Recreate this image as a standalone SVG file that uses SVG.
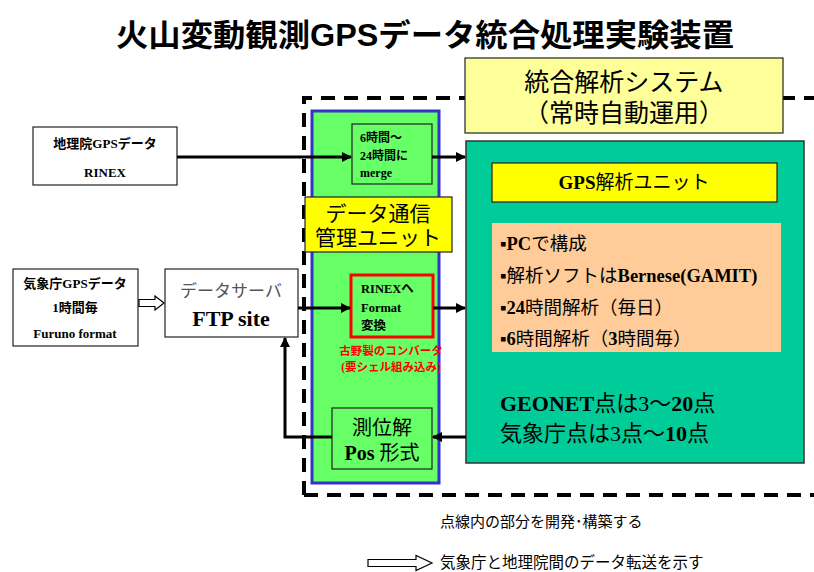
<svg xmlns="http://www.w3.org/2000/svg" width="814" height="572" viewBox="0 0 814 572">
<defs>
<style>
.jp{font-family:"Liberation Sans","Noto Sans CJK JP",sans-serif;}
.sf{font-family:"Liberation Serif","Noto Sans CJK JP",serif;}
.box{stroke:#222;stroke-width:1.2;}
.ln{stroke:#000;stroke-width:3;fill:none;}
</style>
<marker id="ah" markerWidth="10" markerHeight="10" refX="9" refY="5" orient="auto" markerUnits="userSpaceOnUse">
<path d="M0,0 L10,5 L0,10 z" fill="#000"/>
</marker>
</defs>
<rect width="814" height="572" fill="#fff"/>
<text class="jp" x="425" y="46" font-size="31" font-weight="bold" text-anchor="middle" textLength="618" lengthAdjust="spacingAndGlyphs">火山変動観測GPSデータ統合処理実験装置</text>

<path d="M304,495 L304,98 L820,98 M304,495 L820,495" stroke="#000" stroke-width="4" fill="none" stroke-dasharray="14,9"/>

<g id="system-label">
<rect x="465" y="58" width="318" height="75" fill="#FFFF99" class="box"/>
<text class="jp" x="624" y="91" font-size="25" text-anchor="middle">統合解析システム</text>
<text class="jp" x="624" y="122" font-size="25" text-anchor="middle">（常時自動運用）</text>
</g>

<g id="comm-unit">
<rect x="312" y="111" width="127" height="372" fill="#66FF66" stroke="#3333CC" stroke-width="3"/>
</g>

<g id="merge">
<rect x="352" y="124" width="80" height="60" fill="#66FF66" class="box"/>
<text class="sf" font-size="12" font-weight="bold"><tspan x="360" y="142">6時間～</tspan><tspan x="360" y="160">24時間に</tspan><tspan x="360" y="177">merge</tspan></text>
</g>

<g id="comm-label">
<rect x="305" y="197" width="147" height="55" fill="#FFFF00" class="box"/>
<text class="jp" x="378" y="221" font-size="21" text-anchor="middle">データ通信</text>
<text class="jp" x="378" y="245" font-size="21" text-anchor="middle">管理ユニット</text>
</g>

<g id="converter">
<rect x="351" y="275" width="82" height="62" fill="#66FF66" stroke="#FF0000" stroke-width="3"/>
<text class="sf" font-size="12.5" font-weight="bold"><tspan x="361" y="293">RINEXへ</tspan><tspan x="361" y="312">Format</tspan><tspan x="361" y="330">変換</tspan></text>
<text class="sf" x="391" y="355" font-size="11.5" font-weight="bold" fill="#FF0000" text-anchor="middle">古野製のコンバータ</text>
<text class="sf" x="391" y="371" font-size="11.5" font-weight="bold" fill="#FF0000" text-anchor="middle">(要シェル組み込み)</text>
</g>

<g id="pos">
<rect x="332" y="408" width="100" height="61" fill="#66FF66" class="box"/>
<text class="jp" x="382" y="435" font-size="20" text-anchor="middle">測位解</text>
<text class="sf" x="382" y="460" font-size="20" text-anchor="middle"><tspan font-weight="bold">Pos</tspan> 形式</text>
</g>

<g id="gsi">
<rect x="33" y="127" width="144" height="58" fill="#fff" class="box"/>
<text class="sf" x="105" y="148" font-size="13" font-weight="bold" text-anchor="middle">地理院GPSデータ</text>
<text class="sf" x="105" y="177" font-size="13" font-weight="bold" text-anchor="middle">RINEX</text>
</g>

<g id="jma">
<rect x="13" y="269" width="125" height="77" fill="#fff" class="box"/>
<text class="sf" x="75" y="288" font-size="13" font-weight="bold" text-anchor="middle">気象庁GPSデータ</text>
<text class="sf" x="75" y="312" font-size="13" font-weight="bold" text-anchor="middle">1時間毎</text>
<text class="sf" x="75" y="338" font-size="13" font-weight="bold" text-anchor="middle">Furuno format</text>
</g>

<g id="ftp">
<rect x="165" y="269" width="133" height="68" fill="#fff" class="box"/>
<text class="jp" x="231" y="297" font-size="17" fill="#555" text-anchor="middle">データサーバ</text>
<text class="sf" x="231" y="326" font-size="22" font-weight="bold" text-anchor="middle">FTP site</text>
</g>

<g id="analysis">
<rect x="466" y="141" width="338" height="322" fill="#00CC99" stroke="#333" stroke-width="1.5"/>
<rect x="492" y="163" width="285" height="39" fill="#FFFF00" class="box"/>
<text class="sf" x="634" y="189" font-size="19" text-anchor="middle"><tspan font-weight="bold">GPS</tspan>解析ユニット</text>
<rect x="492" y="223" width="289" height="129" fill="#FFCC99"/>
<text class="sf" font-size="18.5"><tspan x="500" y="250" font-weight="bold">▪PC</tspan><tspan>で構成</tspan></text>
<text class="sf" font-size="18.5"><tspan x="500" y="282">▪解析ソフトは</tspan><tspan font-weight="bold">Bernese(GAMIT)</tspan></text>
<text class="sf" font-size="18.5"><tspan x="500" y="314">▪</tspan><tspan font-weight="bold">24</tspan><tspan>時間解析（毎日）</tspan></text>
<text class="sf" font-size="18.5"><tspan x="500" y="345">▪</tspan><tspan font-weight="bold">6</tspan><tspan>時間解析（</tspan><tspan font-weight="bold">3</tspan><tspan>時間毎）</tspan></text>
<text class="sf" font-size="22"><tspan x="500" y="411" font-weight="bold">GEONET</tspan><tspan>点は3～</tspan><tspan font-weight="bold">20</tspan><tspan>点</tspan></text>
<text class="sf" font-size="22"><tspan x="500" y="441">気象庁点は3点～</tspan><tspan font-weight="bold">10</tspan><tspan>点</tspan></text>
</g>

<g id="connectors">
<line class="ln" x1="177" y1="157" x2="351" y2="157" marker-end="url(#ah)"/>
<line class="ln" x1="432" y1="157" x2="465" y2="157" marker-end="url(#ah)"/>
<line class="ln" x1="298" y1="308" x2="350" y2="308" marker-end="url(#ah)"/>
<line class="ln" x1="433" y1="308" x2="465" y2="308" marker-end="url(#ah)"/>
<line class="ln" x1="466" y1="437" x2="433" y2="437" marker-end="url(#ah)"/>
<polyline class="ln" points="332,437 285,437 285,338" marker-end="url(#ah)"/>
<path d="M139,299.5 L155,299.5 L155,296 L164,303 L155,310 L155,306.5 L139,306.5 z" fill="#fff" stroke="#000" stroke-width="1.2"/>
</g>

<g id="legend">
<text class="jp" x="440" y="527" font-size="15">点線内の部分を開発･構築する</text>
<path d="M368,559.5 L416,559.5 L416,555.5 L432,563 L416,570.5 L416,566.5 L368,566.5 z" fill="#fff" stroke="#000" stroke-width="1.2"/>
<text class="jp" x="440" y="568" font-size="15.5">気象庁と地理院間のデータ転送を示す</text>
</g>
</svg>
